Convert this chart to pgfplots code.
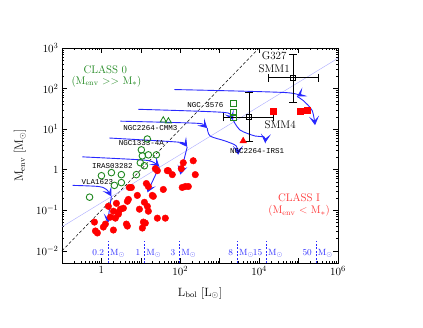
\documentclass[border=0pt]{standalone}
\usepackage{fontspec}
\setmonofont{Liberation Mono}
\usepackage{pgfplots}
\pgfplotsset{compat=1.18}
\usetikzlibrary{arrows.meta}
\definecolor{trk}{RGB}{40,40,255}
\definecolor{lblue}{RGB}{170,170,255}
\definecolor{cgreen}{RGB}{30,135,30}
\definecolor{cred}{RGB}{255,0,0}
\definecolor{tred}{RGB}{255,50,50}

% class I sources (L_bol, M_env)
\pgfplotstableread{
L M
0.705 0.0308
0.79 0.0275
0.665 0.051
1.12 0.0385
1.5 0.125
2.01 0.0325
2.26 0.0638
2.4 0.148
2.69 0.0893
3.03 0.106
3.6 0.112
4.3 0.0456
4.55 0.0407
4.83 0.185
5.1 0.364
5.75 0.364
8.15 0.232
9.2 0.106
10.9 0.0364
11.6 0.051
13 0.0482
12.3 0.157
14.6 0.125
15.5 0.0946
13.8 0.456
15.5 0.385
19.5 0.232
20.7 0.22
26.2 0.0638
37.1 0.325
41.7 0.0638
46.9 0.945
49.7 0.945
62.7 0.755
106 1.06
119 1.48
112 0.364
134 0.385
160 0.385
240 0.755
213 1.66
23.3 1.06
26.2 0.945
4.55 0.166
1.69 0.0675
2.69 0.0798
2.01 0.0946
1.26 0.0456
}\classone

% class 0 sources
\pgfplotstableread{
L M
14.6 5.7
10.3 3.08
10.9 2.19
15.5 2.32
24.7 2.32
9.7 1.48
12.3 1.25
7.7 0.755
1.0 0.71
1.79 0.845
3.2 0.755
2.13 0.41
3.2 0.48
0.50 0.21
}\classzero

\tikzset{trkarrow/.style={trk, line width=0.9pt, smooth, tension=0.5,
  -{Stealth[length=9pt,width=10pt,inset=4.5pt]}},
  mtick/.style={trk, line width=0.6pt, dash pattern=on 2pt off 1.5pt}}

\begin{document}
\begin{tikzpicture}
\path[use as bounding box] (-62pt,-64pt) rectangle (361pt,263pt);
\begin{axis}[
  scale only axis, width=276pt, height=215pt,
  xmode=log, ymode=log,
  xmin=0.1, xmax=1e6, ymin=0.005, ymax=1000,
  xtick={0.1,1,10,100,1000,10000,100000,1000000},
  xticklabels={,1,,$10^2$,,$10^4$,,$10^6$},
  ytick={0.01,0.1,1,10,100,1000},
  yticklabels={$10^{-2}$,$10^{-1}$,1,$10^1$,$10^2$,$10^3$},
  tick label style={font=\fontsize{11}{12}\selectfont},
  major tick length=5pt, minor tick length=2.5pt,
  tick style={black, line width=0.5pt},
  axis line style={line width=0.8pt},
  every axis x label/.style={at={(axis description cs:0.5,0)}, yshift=-30pt, anchor=center},
  every axis y label/.style={at={(axis description cs:0,0.5)}, xshift=-42pt, rotate=90, anchor=center},
  label style={font=\fontsize{12}{14}\selectfont},
  xlabel={L$_{\mathrm{bol}}$ [L$_\odot$]},
  ylabel={M$_{\mathrm{env}}$ [M$_\odot$]},
]
% reference lines
\addplot[black, line width=0.5pt, dash pattern=on 3pt off 2pt] coordinates {(0.1,0.01) (1e4,1000)};
\addplot[lblue, line width=0.4pt] coordinates {(0.1,0.039) (1e6,560)};

% evolutionary tracks
\addplot[trkarrow] coordinates {(0.185,0.41) (0.84,0.385) (1.34,0.325) (1.79,0.22)};
\addplot[trkarrow] coordinates {(1.79,0.22) (1.42,0.048)};
\addplot[trkarrow] coordinates {(0.33,2.07) (9.7,1.75) (19.6,1.57) (29.4,1.18)};
\addplot[trkarrow] coordinates {(29.4,1.18) (14.6,0.275)};
\addplot[trkarrow] coordinates {(1.6,6.03) (84,4.8) (126,4.3) (150,3.64)};
\addplot[trkarrow] coordinates {(150,3.64) (100,0.755)};
\addplot[trkarrow] coordinates {(3.03,15.7) (240,14) (382,12.5) (483,10.6)};
\addplot[trkarrow] coordinates {(483,10.6) (574,6.75) (1377,5.1) (2618,3.85) (2940,2.32)};
\addplot[trkarrow] coordinates {(8.65,30.8) (1156,26) (1845,20.8) (2198,16.6)};
\addplot[trkarrow] coordinates {(2198,16.6) (3300,9.46) (7925,6.75) (13400,6.38) (14200,4.56)};
\addplot[trkarrow] coordinates {(70.5,94.6) (45500,79.8) (91600,63.8)};
\addplot[trkarrow] coordinates {(91600,63.8) (130000,51) (220000,29) (262000,12.5)};

% final-mass ticks
\addplot[mtick] coordinates {(1.48,0.005) (1.48,0.0175)};
\addplot[mtick] coordinates {(12.3,0.005) (12.3,0.0175)};
\addplot[mtick] coordinates {(94.4,0.005) (94.4,0.0175)};
\addplot[mtick] coordinates {(2750,0.005) (2750,0.0175)};
\addplot[mtick] coordinates {(15100,0.005) (15100,0.0175)};
\addplot[mtick] coordinates {(275000,0.005) (275000,0.0175)};

% sources
\addplot[only marks, mark=*, mark size=3.3pt, cred, mark options={draw=cred, fill=cred}] table[x=L, y=M] {\classone};
\addplot[only marks, mark=o, mark size=3.3pt, cgreen, mark options={line width=0.9pt}] table[x=L, y=M] {\classzero};
\addplot[only marks, mark=triangle, mark size=3.5pt, cgreen, mark options={line width=0.8pt}] coordinates {(37,16.6) (50,15.7)};
\addplot[only marks, mark=square, mark size=3pt, cgreen, mark options={line width=0.8pt}] coordinates {(2200,43) (2200,26) (2200,19.6)};
\addplot[only marks, mark=square*, mark size=3.3pt, cred] coordinates {(22600,27.5) (109000,27.5) (164000,29)};
\addplot[only marks, mark=triangle*, mark size=3.8pt, cred] coordinates {(3940,5.1)};

% G327 SMM1 and SMM4
\addplot[only marks, mark=square, mark size=2.5pt, black, mark options={line width=0.6pt},
  error bars/.cd, x dir=both, x explicit, y dir=both, y explicit,
  error bar style={black, line width=0.6pt},
  error mark options={black, line width=0.6pt, mark size=4pt, rotate=90}]
  coordinates {
  (72600,185) += (239400,529) -= (55700,139.4)
  (5580,19.6) += (17020,60.4) -= (4353,14.5)
  };

% labels
\node[cgreen, font=\fontsize{11}{12}\selectfont] at (axis cs:1.26,290) {CLASS 0};
\node[cgreen, font=\fontsize{11}{12}\selectfont] at (axis cs:1.34,150) {(M$_{\mathrm{env}}$ {>}{>} M$_*$)};
\node[tred, font=\fontsize{11}{12}\selectfont] at (axis cs:103000,0.207) {CLASS I};
\node[tred, font=\fontsize{11}{12}\selectfont] at (axis cs:103000,0.097) {(M$_{\mathrm{env}}$ {<} M$_*$)};
\node[font=\fontsize{11}{12}\selectfont] at (axis cs:24000,638) {G327};
\node[font=\fontsize{11}{12}\selectfont] at (axis cs:24000,307) {SMM1};
\node[font=\fontsize{11}{12}\selectfont] at (axis cs:34000,12.5) {SMM4};
\node[font=\ttfamily\fontsize{7.5}{8}\selectfont] at (axis cs:430,38.5) {NGC 3576};
\node[font=\ttfamily\fontsize{7.5}{8}\selectfont] at (axis cs:8900,2.9) {NGC2264-IRS1};
\node[font=\ttfamily\fontsize{7.5}{8}\selectfont] at (axis cs:17.4,10.6) {NGC2264-CMM3};
\node[font=\ttfamily\fontsize{7.5}{8}\selectfont] at (axis cs:10.3,4.56) {NGC1333-4A};
\node[font=\ttfamily\fontsize{7.5}{8}\selectfont] at (axis cs:1.9,1.25) {IRAS03282};
\node[font=\ttfamily\fontsize{7.5}{8}\selectfont] at (axis cs:0.79,0.51) {VLA1623};

% final-mass labels
\begin{scope}[trk, font=\fontsize{9}{10}\selectfont]
\node[anchor=base east, xshift=-0.5pt] at (axis cs:1.48,0.0075) {0.2};
\node[anchor=base west, xshift=-1.5pt] at (axis cs:1.48,0.0075) {M$_\odot$};
\node[anchor=base east, xshift=-0.5pt] at (axis cs:12.3,0.0075) {1};
\node[anchor=base west, xshift=-1.5pt] at (axis cs:12.3,0.0075) {M$_\odot$};
\node[anchor=base east, xshift=-0.5pt] at (axis cs:94.4,0.0075) {3};
\node[anchor=base west, xshift=-1.5pt] at (axis cs:94.4,0.0075) {M$_\odot$};
\node[anchor=base east, xshift=-0.5pt] at (axis cs:2750,0.0075) {8};
\node[anchor=base west, xshift=-1.5pt] at (axis cs:2750,0.0075) {M$_\odot$};
\node[anchor=base east, xshift=-0.5pt] at (axis cs:15100,0.0075) {15};
\node[anchor=base west, xshift=-1.5pt] at (axis cs:15100,0.0075) {M$_\odot$};
\node[anchor=base east, xshift=-0.5pt] at (axis cs:275000,0.0075) {50};
\node[anchor=base west, xshift=-1.5pt] at (axis cs:275000,0.0075) {M$_\odot$};
\end{scope}
\end{axis}
\end{tikzpicture}
\end{document}
